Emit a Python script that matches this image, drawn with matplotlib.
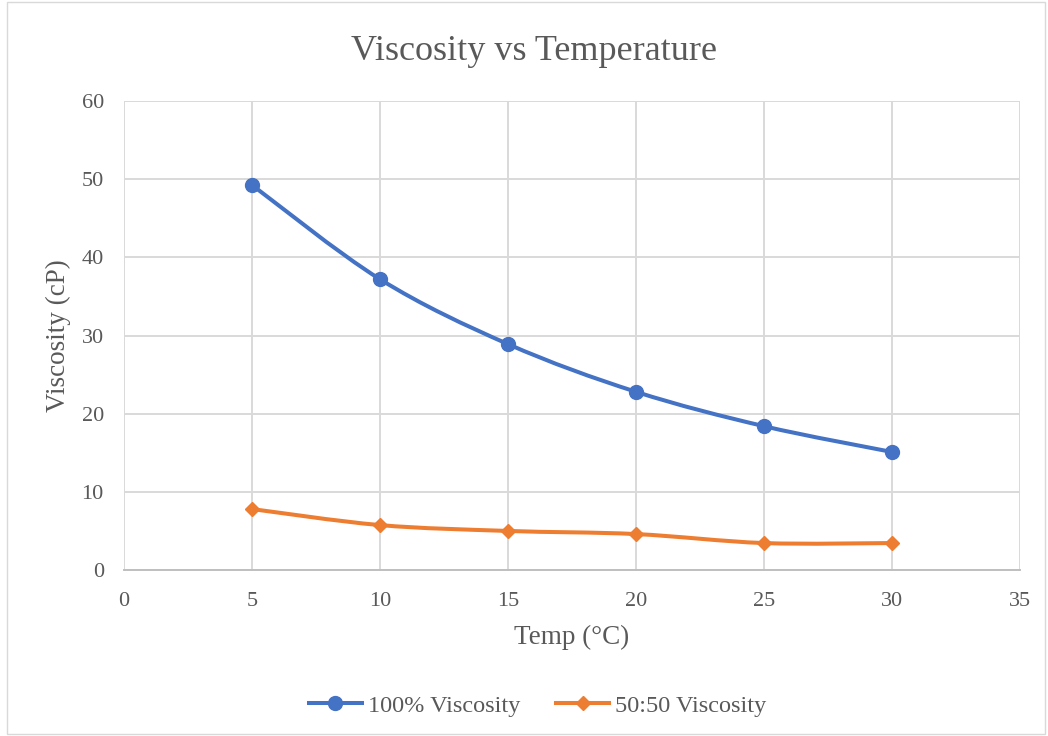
import numpy as np
import matplotlib.pyplot as plt
from matplotlib.path import Path
from matplotlib.patches import PathPatch, Rectangle
from matplotlib.lines import Line2D

plt.rcParams['font.family'] = ['Liberation Serif', 'DejaVu Serif']

temp = [5, 10, 15, 20, 25, 30]
visc_100 = [49.25, 37.2, 28.9, 22.8, 18.4, 15.1]
visc_5050 = [7.8, 5.75, 5.0, 4.6, 3.45, 3.45]

blue = '#4472c4'
orange = '#ed7d31'
grey_text = '#595959'


############### Excel-like smoothed line (Catmull-Rom as Bezier) ###############
def smooth_path(xs, ys):
    pts = np.column_stack([xs, ys]).astype(float)
    verts = [pts[0]]
    codes = [Path.MOVETO]
    n = len(pts)
    for i in range(n - 1):
        p0 = pts[i - 1] if i > 0 else pts[i]
        p1 = pts[i]
        p2 = pts[i + 1]
        p3 = pts[i + 2] if i + 2 < n else pts[i + 1]
        c1 = p1 + (p2 - p0) / 6.0
        c2 = p2 - (p3 - p1) / 6.0
        verts += [c1, c2, p2]
        codes += [Path.CURVE4] * 3
    return Path(verts, codes)


fig = plt.figure(figsize=(10.48, 7.36), dpi=100)
fig.patches.append(Rectangle((0.007, 0.003), 0.99, 0.994, transform=fig.transFigure,
                             fill=False, edgecolor='#d9d9d9', linewidth=1))
ax = fig.add_axes([0.1183, 0.2255, 0.855, 0.6373])

ax.add_patch(PathPatch(smooth_path(temp, visc_100), fill=False, edgecolor=blue, linewidth=2.9, zorder=3))
ax.add_patch(PathPatch(smooth_path(temp, visc_5050), fill=False, edgecolor=orange, linewidth=2.9, zorder=3))
ax.plot(temp, visc_100, linestyle='none', marker='o', markersize=10, color=blue, zorder=4)
ax.plot(temp, visc_5050, linestyle='none', marker='D', markersize=7.5, color=orange, zorder=4)

ax.set_xlim(0, 35)
ax.set_ylim(0, 60)
ax.set_xticks(range(0, 36, 5))
ax.set_yticks(range(0, 61, 10))
ax.grid(True, color='#d9d9d9', linewidth=1.4)
ax.set_axisbelow(True)
for s in ['top', 'right', 'left']:
    ax.spines[s].set_visible(False)
ax.spines['bottom'].set_color('#bfbfbf')
ax.spines['bottom'].set_linewidth(1.4)
ax.tick_params(length=0, labelsize=16, labelcolor=grey_text)
ax.tick_params(axis='x', pad=15.5)
ax.tick_params(axis='y', pad=14.5)

fig.text(0.5096, 0.93, 'Viscosity vs Temperature', fontsize=26, color=grey_text,
         ha='center', va='center')
ax.set_xlabel('Temp (°C)', fontsize=19.5, color=grey_text, labelpad=10.5)
ax.set_ylabel('Viscosity (cP)', fontsize=19.5, color=grey_text, labelpad=7.5)

handles = [Line2D([], [], color=blue, linewidth=2.9, marker='o', markersize=10),
           Line2D([], [], color=orange, linewidth=2.9, marker='D', markersize=7.5)]
leg = fig.legend(handles, ['100% Viscosity', '50:50 Viscosity'], loc='center',
                 bbox_to_anchor=(0.513, 0.041), ncol=2, frameon=False, fontsize=17.5,
                 handlelength=2.2, columnspacing=1.45, handletextpad=0.25)
for t in leg.get_texts():
    t.set_color(grey_text)

fig.savefig('out.png', dpi=100)
